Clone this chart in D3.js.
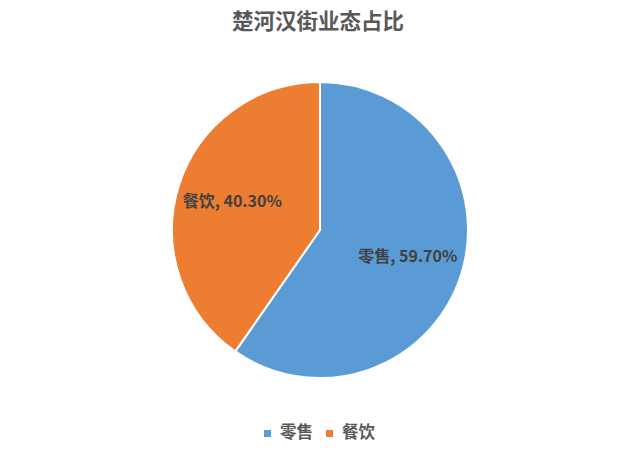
<!DOCTYPE html>
<html><head><meta charset="utf-8">
<script src="https://cdn.jsdelivr.net/npm/d3@7"></script>
<style>body{margin:0;background:#fff;}svg{display:block;}</style>
</head><body>
<svg id="c" width="640" height="460"></svg>
<script>
const title = "楚河汉街业态占比";
const categories = ["零售", "餐饮"];
const values = [59.70, 40.30];
const colors = ["#5B9BD5", "#ED7D31"];
const font = "'Noto Sans CJK SC','Microsoft YaHei',sans-serif";

const svg = d3.select("#c");
const cx = 320, cy = 230, R = 148;

svg.append("text").attr("x", 318).attr("y", 23)
  .attr("text-anchor", "middle").attr("dominant-baseline", "middle")
  .attr("font-family", font).attr("font-size", 21.5).attr("font-weight", "bold")
  .attr("fill", "#595959").text(title);

const data = categories.map((c, i) => ({cat: c, val: values[i], color: colors[i]}));
const pie = d3.pie().value(d => d.val).sort(null);
const arcs = pie(data);
const arc = d3.arc().innerRadius(0).outerRadius(R);
const labelArc = d3.arc().innerRadius(92).outerRadius(92);

const g = svg.append("g").attr("transform", `translate(${cx},${cy})`);
g.selectAll("path").data(arcs).join("path")
  .attr("d", arc).attr("fill", d => d.data.color)
  .attr("stroke", "#fff").attr("stroke-width", 2);

g.selectAll("text.lbl").data(arcs).join("text").attr("class", "lbl")
  .attr("transform", d => `translate(${labelArc.centroid(d)})`)
  .attr("text-anchor", "middle").attr("dominant-baseline", "middle")
  .attr("font-family", font).attr("font-size", 16).attr("font-weight", "bold")
  .attr("fill", "#404040")
  .text(d => `${d.data.cat}, ${d.data.val.toFixed(2)}%`);

const legend = svg.append("g");
const lx = [264, 326];
data.forEach((d, i) => {
  legend.append("rect").attr("x", lx[i]).attr("y", 430).attr("width", 7).attr("height", 7).attr("fill", d.color);
  legend.append("text").attr("x", lx[i] + 16).attr("y", 434)
    .attr("dominant-baseline", "middle")
    .attr("font-family", font).attr("font-size", 16.5).attr("font-weight", "bold")
    .attr("fill", "#595959").text(d.cat);
});
</script>
</body></html>
